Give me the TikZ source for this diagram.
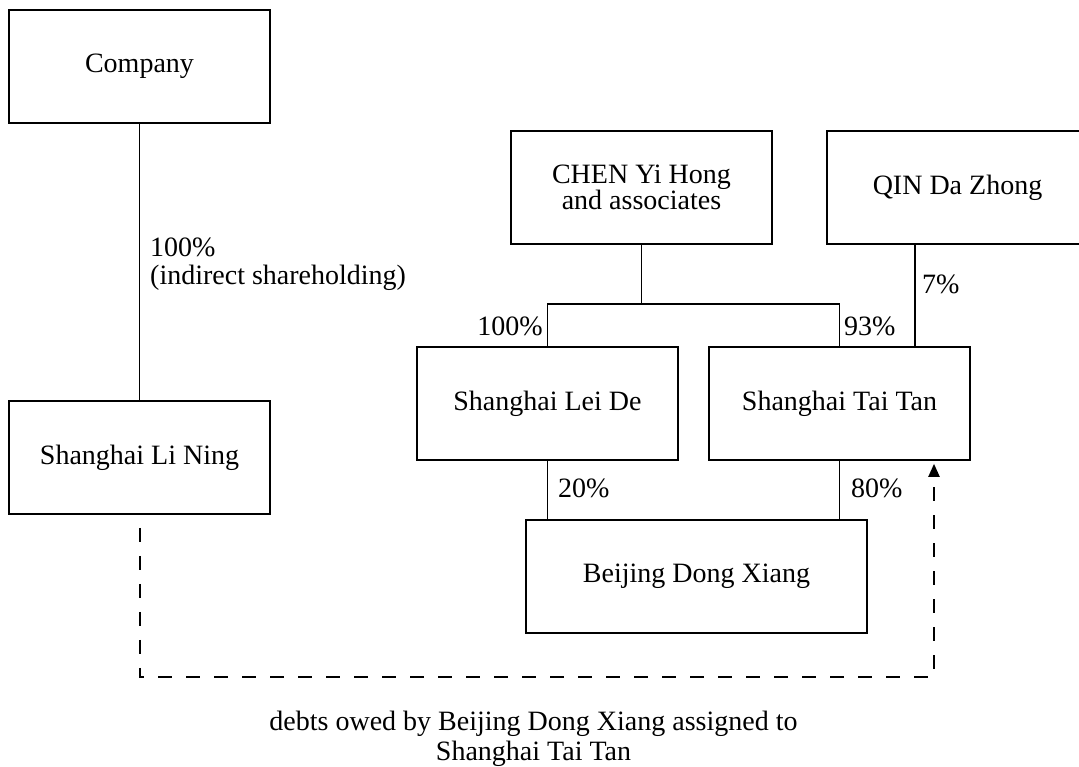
\documentclass[tikz,border=0pt]{standalone}
\usepackage{fontspec}
\setmainfont{Liberation Serif}
\usetikzlibrary{arrows.meta,calc}
\tikzset{
  box/.style={draw, line width=1.6pt, minimum width=261pt, minimum height=113pt,
    inner sep=0pt, align=center, font=\fontsize{28}{26}\selectfont},
  stem/.style={line width=1.4pt},
  lbl/.style={inner sep=0pt, font=\fontsize{28}{28}\selectfont},
  debt/.style={line width=2pt, dash pattern=on 14pt off 14pt,
    -{Triangle[length=13pt,width=11pt]}}
}
\begin{document}
\begin{tikzpicture}[x=1pt,y=-1pt]
\useasboundingbox (0,0) rectangle (1079,767);
\clip (0,0) rectangle (1079,767);
% boxes
\node[box] (company) at (139.5,66.5) {Company};
\node[box] (lining) at (139.5,457.5) {Shanghai Li Ning};
\node[box] (chen) at (641.5,187.5) {CHEN Yi Hong\\and associates};
\node[box] (qin) at (957.5,187.5) {QIN Da Zhong};
\node[box] (leide) at (547.5,403.5) {Shanghai Lei De};
\node[box] (taitan) at (839.5,403.5) {Shanghai Tai Tan};
\node[box, minimum width=341pt] (beijing) at (696.5,576.5) {Beijing Dong Xiang};
% connectors
\draw[stem] (company.south) -- (lining.north);
\coordinate (j) at (641.5,304);
\draw[stem] (chen.south) -- (j);
\draw[stem] (leide.north) |- (j) -| (taitan.north);
\coordinate (qx) at (915,0);
\draw[stem] (qin.south -| qx) -- (taitan.north -| qx);
\draw[stem] (leide.south) -- (leide.south |- beijing.north);
\draw[stem] (taitan.south) -- (taitan.south |- beijing.north);
% dashed debt line
\coordinate (dc) at (934,677);
\draw[debt] ($(lining.south)+(0,13)$) |- (dc) -- ($(taitan.south -| dc)+(0,3)$);
% labels
\node[lbl, anchor=base west] (l1) at (150,257) {100\%};
\node[lbl, anchor=base west] (l2) at (150,285) {(indirect shareholding)};
\node[lbl, anchor=base east] (l3) at (543,336) {100\%};
\node[lbl, anchor=base west] (l4) at (844,336) {93\%};
\node[lbl, anchor=base west] (l5) at (922,294) {7\%};
\node[lbl, anchor=base west] (l6) at (558,497) {20\%};
\node[lbl, anchor=base west] (l7) at (851,497) {80\%};
\node[lbl, anchor=base] (n1) at (533.5,730) {debts owed by Beijing Dong Xiang assigned to};
\node[lbl, anchor=base] (n2) at (533.5,760) {Shanghai Tai Tan};
\end{tikzpicture}
\end{document}
